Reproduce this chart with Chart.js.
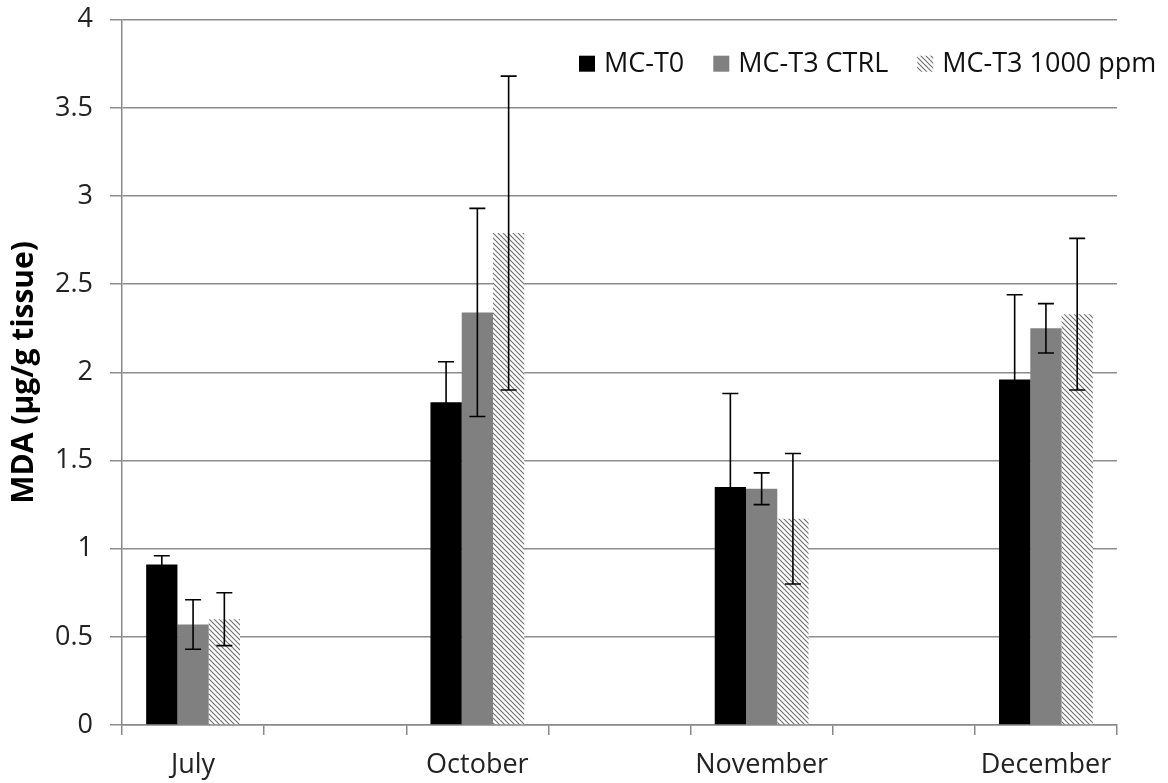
<!DOCTYPE html>
<html>
<head>
<meta charset="utf-8">
<title>MDA</title>
<script src="https://cdn.jsdelivr.net/npm/chart.js@4.4.1/dist/chart.umd.min.js"></script>
<style>
    html, body { margin: 0; padding: 0; background: #fff; }
    #wrap { width: 1168px; height: 783px; position: relative; }
</style>
</head>
<body>
<div id="wrap"><canvas id="mda-chart"></canvas></div>
<script>
// 月（空欄はExcelの空白カテゴリ）
const months = ['July', '', 'October', '', 'November', '', 'December'];

// MDA (µg/g tissue) 平均値
const mcT0 = [0.91, null, 1.83, null, 1.35, null, 1.96];
const mcT3Ctrl = [0.57, null, 2.34, null, 1.34, null, 2.25];
const mcT3Ppm = [0.60, null, 2.79, null, 1.17, null, 2.33];

// 誤差（±）
const mcT0Err = [0.05, null, 0.23, null, 0.53, null, 0.48];
const mcT3CtrlErr = [0.14, null, 0.59, null, 0.09, null, 0.14];
const mcT3PpmErr = [0.15, null, 0.89, null, 0.37, null, 0.43];

const seriesNames = ['MC-T0', 'MC-T3 CTRL', 'MC-T3 1000 ppm'];

const FONT = '"Open Sans", "DejaVu Sans", sans-serif';

// 斜線パターン
function makeHatch() {
    const size = 5;
    const c = document.createElement('canvas');
    c.width = size; c.height = size;
    const g = c.getContext('2d');
    g.fillStyle = '#ffffff';
    g.fillRect(0, 0, size, size);
    g.strokeStyle = '#6e6e6e';
    g.lineWidth = 1.1;
    g.beginPath();
    g.moveTo(-1, -1); g.lineTo(size + 1, size + 1);
    g.moveTo(-1, size - 1); g.lineTo(1, size + 1);
    g.moveTo(size - 1, -1); g.lineTo(size + 1, 1);
    g.stroke();
    return g.createPattern(c, 'repeat');
}

// 誤差棒を描くプラグイン
const errorBarPlugin = {
    id: 'errorBars',
    afterDatasetsDraw(chart) {
        const ctx = chart.ctx;
        const y = chart.scales.y;
        ctx.save();
        ctx.strokeStyle = '#000';
        ctx.lineWidth = 1.6;
        chart.data.datasets.forEach((ds, i) => {
            const meta = chart.getDatasetMeta(i);
            meta.data.forEach((bar, j) => {
                const v = ds.data[j];
                const e = ds.errors[j];
                if (v == null || e == null) return;
                const top = y.getPixelForValue(v + e);
                const bot = y.getPixelForValue(v - e);
                const half = 8;
                ctx.beginPath();
                ctx.moveTo(bar.x, top); ctx.lineTo(bar.x, bot);
                ctx.moveTo(bar.x - half, top); ctx.lineTo(bar.x + half, top);
                ctx.moveTo(bar.x - half, bot); ctx.lineTo(bar.x + half, bot);
                ctx.stroke();
            });
        });
        ctx.restore();
    }
};

// グラフ内に凡例を描くプラグイン
const innerLegendPlugin = {
    id: 'innerLegend',
    afterDraw(chart) {
        const ctx = chart.ctx;
        const area = chart.chartArea;
        ctx.save();
        ctx.font = '27px ' + FONT;
        ctx.textBaseline = 'middle';
        let x = area.left + 457;
        const cy = area.top + 44;
        chart.data.datasets.forEach(ds => {
            ctx.fillStyle = ds.backgroundColor;
            ctx.fillRect(x, cy - 8, 16, 16);
            x += 25;
            ctx.fillStyle = '#111';
            ctx.fillText(ds.label, x, cy + 1);
            x += ctx.measureText(ds.label).width + 29;
        });
        ctx.restore();
    }
};

function renderChart() {
    const ctx = document.getElementById('mda-chart').getContext('2d');
    const hatch = makeHatch();
    return new Chart(ctx, {
        type: 'bar',
        data: {
            labels: months,
            datasets: [
                { label: seriesNames[0], data: mcT0, errors: mcT0Err, backgroundColor: '#000000' },
                { label: seriesNames[1], data: mcT3Ctrl, errors: mcT3CtrlErr, backgroundColor: '#808080' },
                { label: seriesNames[2], data: mcT3Ppm, errors: mcT3PpmErr, backgroundColor: hatch }
            ]
        },
        options: {
            responsive: true,
            maintainAspectRatio: false,
            animation: false,
            devicePixelRatio: 1,
            layout: { padding: { top: 0, right: 51, left: 0, bottom: 0 } },
            datasets: { bar: { categoryPercentage: 0.66, barPercentage: 1.0 } },
            scales: {
                x: {
                    grid: { offset: true, drawOnChartArea: false, drawTicks: true, tickLength: 10, color: '#888', lineWidth: 1.5 },
                    border: { color: '#888', width: 1.5 },
                    ticks: { color: '#222', font: { family: FONT, size: 27 }, padding: 14, autoSkip: false, maxRotation: 0 },
                    afterFit: (s) => { s.height = 58; }
                },
                y: {
                    min: 0, max: 4,
                    grid: { color: '#8c8c8c', lineWidth: 1.5, tickLength: 12 },
                    border: { color: '#888', width: 1.5 },
                    ticks: {
                        stepSize: 0.5, color: '#222', padding: 17,
                        font: { family: FONT, size: 27, lineHeight: 0.2 },
                        callback: (v) => `${v}`
                    },
                    title: {
                        display: true, text: 'MDA (µg/g tissue)', color: '#000',
                        font: { family: FONT, size: 30, weight: 'bold' },
                        padding: { top: 6, bottom: 0 }
                    },
                    afterFit: (s) => { s.width = 122; }
                }
            },
            plugins: {
                legend: { display: false },
                tooltip: { enabled: false }
            }
        },
        plugins: [errorBarPlugin, innerLegendPlugin]
    });
}

renderChart();
</script>
</body>
</html>
